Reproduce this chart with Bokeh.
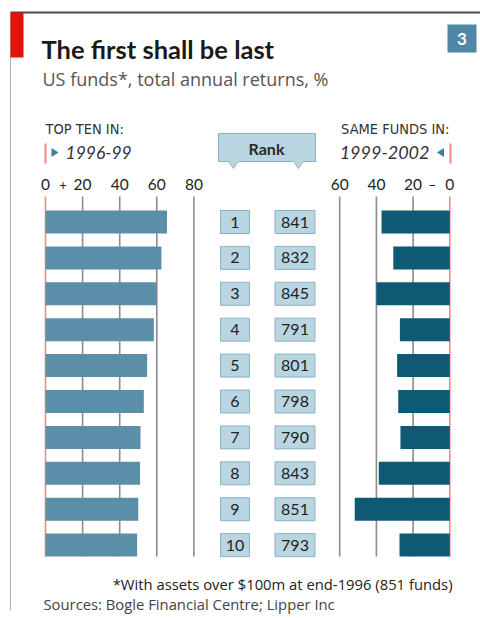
from bokeh.plotting import figure
from bokeh.models import Range1d, ColumnDataSource
from bokeh.embed import file_html
from bokeh.resources import INLINE
from bokeh.core.properties import value

# ---- data ----
ranks = [1, 2, 3, 4, 5, 6, 7, 8, 9, 10]
returns_1996_99 = [65.5, 62.5, 59.8, 58.4, 54.8, 53.0, 51.2, 51.0, 50.0, 49.4]
later_ranks = [841, 832, 845, 791, 801, 798, 790, 843, 851, 793]
returns_1999_2002 = [-37.2, -30.8, -40.0, -27.2, -28.7, -28.1, -26.9, -38.7, -51.8, -27.4]
left_ticks = [0, 20, 40, 60, 80]
left_tick_labels = ["0", "20", "40", "60", "80"]
right_ticks = [-60, -40, -20, 0]
right_tick_labels = ["60", "40", "20", "0"]

W, H = 480, 618
FONT = "Lato"
WIDE = "Open Sans"
COND = "DejaVu Sans Condensed"
LEFT_BAR = "#5b8ea8"
RIGHT_BAR = "#0e5a75"
BOX_FILL = "#b9d5e2"
BOX_LINE = "#8fb2c2"
GRID = "#8c8c8c"
ZERO = "#f08a8a"

p = figure(width=W, height=H, x_range=Range1d(0, W), y_range=Range1d(H, 0),
           toolbar_location=None, output_backend="svg", min_border=0,
           x_axis_type=None, y_axis_type=None)
p.outline_line_color = None
p.grid.visible = False
p.background_fill_color = "white"
p.border_fill_color = "white"

# panel scales: left 0 at px 45, 1.855 px/unit; right 0 at px 449.3, 1.835 px/unit
p.extra_x_ranges = {
    "left": Range1d(-45 / 1.855, (W - 45) / 1.855),
    "right": Range1d(-449.3 / 1.835, (W - 449.3) / 1.835),
}
pitch = 35.9
c1 = 221.5
p.extra_y_ranges = {"rank": Range1d(start=1 + (H - c1) / pitch, end=1 - c1 / pitch)}

# ---- frame decorations ----
p.segment(x0=[10], y0=[12], x1=[480], y1=[12], line_color="#4a4a4a", line_width=2)
p.segment(x0=[10], y0=[12], x1=[10], y1=[610], line_color="#b0b0b0", line_width=1)
p.quad(left=[10], right=[23], top=[12], bottom=[57], fill_color="#e3120b", line_color=None)
p.quad(left=[447], right=[476], top=[24], bottom=[52], fill_color="#4f88a6", line_color=None)
p.text(x=[461.5], y=[38.5], text=["3"], text_color="white", text_font=value(FONT),
       text_font_style="bold", text_font_size="17px", text_align="center", text_baseline="middle")

p.text(x=[41], y=[48], text=["The first shall be last"], text_font=value(FONT),
       text_font_style="bold", text_font_size="25.5px", text_color="#1a1a1a",
       text_baseline="middle")
p.text(x=[42], y=[78], text=["US funds*, total annual returns, %"], text_font=value(WIDE),
       text_font_size="18px", text_color="#555555", text_baseline="middle")

# ---- panel headers ----
p.text(x=[45], y=[128], text=["TOP TEN IN:"], text_font=value(COND),
       text_font_size="14.5px", text_color="#333333", text_baseline="middle")
p.text(x=[449], y=[128], text=["SAME FUNDS IN:"], text_font=value(COND),
       text_font_size="14.5px", text_color="#333333", text_baseline="middle", text_align="right")
p.text(x=[65], y=[152], text=["1996-99"], text_font=value(FONT), text_font_style="italic",
       text_font_size="17.5px", text_color="#333333", text_baseline="middle")
p.text(x=[429], y=[152], text=["1999-2002"], text_font=value(FONT), text_font_style="italic",
       text_font_size="18px", text_color="#333333", text_baseline="middle", text_align="right")
p.segment(x0=[45, 450], y0=[143, 143], x1=[45, 450], y1=[163, 163], line_color=ZERO, line_width=2)
p.patches(xs=[[51, 51, 58], [443.5, 443.5, 436.5]], ys=[[147.5, 156.5, 152], [147.5, 156.5, 152]],
          fill_color="#3b7fa0", line_color=None)

# rank header box with two pointers
p.quad(left=[218], right=[315], top=[133], bottom=[161], fill_color=BOX_FILL, line_color=BOX_LINE)
p.patches(xs=[[228, 238, 233], [293, 303, 298]], ys=[[160, 160, 168], [160, 160, 168]],
          fill_color=BOX_FILL, line_color=None)
p.segment(x0=[228, 233, 293, 298], y0=[161, 168, 161, 168], x1=[233, 238, 298, 303],
          y1=[168, 161, 168, 161], line_color=BOX_LINE, line_width=1)
p.text(x=[266], y=[147.5], text=["Rank"], text_font=value(FONT), text_font_style="bold",
       text_font_size="16px", text_color="#2a2a2a", text_align="center", text_baseline="middle")

# ---- tick labels ----
p.text(x=left_ticks, y=[184] * 5, text=left_tick_labels, x_range_name="left",
       text_font=value(FONT), text_font_size="15.5px", text_color="#222222",
       text_align="center", text_baseline="middle")
p.text(x=[9.5], y=[184], text=["+"], x_range_name="left", text_font=value(FONT),
       text_font_size="13px", text_color="#222222", text_align="center", text_baseline="middle")
p.text(x=right_ticks, y=[184] * 4, text=right_tick_labels, x_range_name="right",
       text_font=value(FONT), text_font_size="15.5px", text_color="#222222",
       text_align="center", text_baseline="middle")
p.text(x=[-9.5], y=[184], text=["\u2212"], x_range_name="right", text_font=value(FONT),
       text_font_size="13px", text_color="#222222", text_align="center", text_baseline="middle")

# ---- gridlines (rank coords) ----
g_top = 1 + (196 - c1) / pitch
g_bot = 1 + (556 - c1) / pitch
lt = [t for t in left_ticks if t != 0]
rt = [t for t in right_ticks if t != 0]
p.segment(x0=lt, x1=lt, y0=[g_top] * len(lt), y1=[g_bot] * len(lt),
          x_range_name="left", y_range_name="rank", line_color=GRID, line_width=1.6)
p.segment(x0=rt, x1=rt, y0=[g_top] * len(rt), y1=[g_bot] * len(rt),
          x_range_name="right", y_range_name="rank", line_color=GRID, line_width=1.6)
p.segment(x0=[0], x1=[0], y0=[g_top], y1=[g_bot], x_range_name="left", y_range_name="rank",
          line_color=ZERO, line_width=1.6)
p.segment(x0=[0], x1=[0], y0=[g_top], y1=[g_bot], x_range_name="right", y_range_name="rank",
          line_color=ZERO, line_width=1.6)

# ---- bars ----
src = ColumnDataSource(dict(rank=ranks, r1=returns_1996_99, r2=returns_1999_2002,
                            rank_s=[str(r) for r in ranks],
                            later_s=[str(r) for r in later_ranks]))
p.hbar(y="rank", left=0, right="r1", height=0.64, source=src,
       x_range_name="left", y_range_name="rank", fill_color=LEFT_BAR, line_color=None)
p.hbar(y="rank", left="r2", right=0, height=0.64, source=src,
       x_range_name="right", y_range_name="rank", fill_color=RIGHT_BAR, line_color=None)

# ---- rank boxes ----
p.rect(x=234.5, y="rank", width=29, height=0.64, source=src, y_range_name="rank",
       fill_color=BOX_FILL, line_color=BOX_LINE, line_width=1)
p.rect(x=294.5, y="rank", width=40, height=0.64, source=src, y_range_name="rank",
       fill_color=BOX_FILL, line_color=BOX_LINE, line_width=1)
p.text(x=234.5, y="rank", text="rank_s", source=src, y_range_name="rank",
       text_font=value(FONT), text_font_size="16px", text_color="#222222",
       text_align="center", text_baseline="middle")
p.text(x=294.5, y="rank", text="later_s", source=src, y_range_name="rank",
       text_font=value(FONT), text_font_size="16px", text_color="#222222",
       text_align="center", text_baseline="middle")

# ---- footnotes ----
p.text(x=[452], y=[583], text=["*With assets over $100m at end-1996 (851 funds)"],
       text_font=value(WIDE), text_font_size="14.8px", text_color="#222222",
       text_align="right", text_baseline="middle")
p.text(x=[43], y=[603], text=["Sources: Bogle Financial Centre; Lipper Inc"],
       text_font=value(WIDE), text_font_size="14.8px", text_color="#444444",
       text_baseline="middle")

open("out.html", "w").write(file_html(p, INLINE))
